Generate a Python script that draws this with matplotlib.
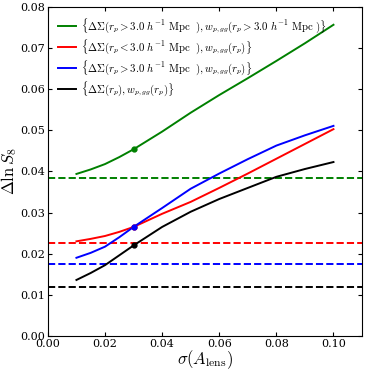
import numpy as np
import matplotlib
matplotlib.use('Agg')
import matplotlib.pyplot as plt

plt.rcParams['font.family'] = 'serif'
plt.rcParams['font.serif'] = ['DejaVu Serif']
plt.rcParams['mathtext.fontset'] = 'cm'
plt.rcParams['xtick.direction'] = 'in'
plt.rcParams['ytick.direction'] = 'in'

# sigma(A_lens) grid
sig_alens = [0.01, 0.015, 0.02, 0.025, 0.03, 0.04, 0.05, 0.06, 0.07, 0.08, 0.09, 0.10]

# Delta ln S8 curves
dlns8_large = [0.0394, 0.0405, 0.0418, 0.0435, 0.0454, 0.0497, 0.0543, 0.0586, 0.0627, 0.0669, 0.0712, 0.0757]
dlns8_small = [0.0230, 0.0236, 0.0243, 0.0253, 0.0265, 0.0297, 0.0326, 0.0360, 0.0395, 0.0431, 0.0467, 0.0503]
dlns8_mixed = [0.0190, 0.0202, 0.0217, 0.0240, 0.0265, 0.0311, 0.0358, 0.0395, 0.0430, 0.0463, 0.0488, 0.0511]
dlns8_all = [0.0136, 0.0153, 0.0172, 0.0196, 0.0220, 0.0265, 0.0302, 0.0333, 0.0360, 0.0387, 0.0406, 0.0423]

# no-A_lens reference levels (dashed)
ref_levels = [0.0385, 0.0225, 0.0176, 0.0120]

colors = ['green', 'red', 'blue', 'black']
labels = [
    r'$\{\Delta\Sigma(r_p>3.0\ h^{-1}\ {\rm Mpc}\ \ ),w_{p,gg}(r_p>3.0\ h^{-1}\ {\rm Mpc}\ )\}$',
    r'$\{\Delta\Sigma(r_p<3.0\ h^{-1}\ {\rm Mpc}\ \ ),w_{p,gg}(r_p)\}$',
    r'$\{\Delta\Sigma(r_p>3.0\ h^{-1}\ {\rm Mpc}\ \ ),w_{p,gg}(r_p)\}$',
    r'$\{\Delta\Sigma(r_p),w_{p,gg}(r_p)\}$',
]
fid_sigma = 0.03

fig = plt.figure(figsize=(3.74, 3.74), dpi=100)
ax = fig.add_axes([0.128, 0.102, 0.840, 0.879])

curves = [dlns8_large, dlns8_small, dlns8_mixed, dlns8_all]
for y, c, lab, ref in zip(curves, colors, labels, ref_levels):
    x = np.array(sig_alens)
    ax.plot(x, y, color=c, lw=1.4, label=lab)
    ax.axhline(ref, color=c, ls='--', lw=1.4)
for y, c in zip(curves, colors):
    # fiducial sigma(A_lens) marker
    ax.plot([fid_sigma], [y[sig_alens.index(fid_sigma)]], 'o', color=c, ms=3.5, mec=c)

ax.set_xlim(0, 0.11)
ax.set_ylim(0, 0.08)
ax.set_xticks(np.arange(0, 0.101, 0.02))
ax.set_yticks(np.arange(0, 0.081, 0.01))
ax.tick_params(top=True, right=True, labelsize=8, length=3, pad=2)
ax.set_xlabel(r'$\sigma(A_{\rm lens})$', fontsize=12, labelpad=0)
ax.set_ylabel(r'$\Delta \ln S_8$', fontsize=12, labelpad=1)
ax.legend(loc='upper left', frameon=False, fontsize=7.8, handlelength=1.7,
          borderaxespad=0.5, labelspacing=0.22, handletextpad=0.5)

fig.savefig('out.png', dpi=100)
